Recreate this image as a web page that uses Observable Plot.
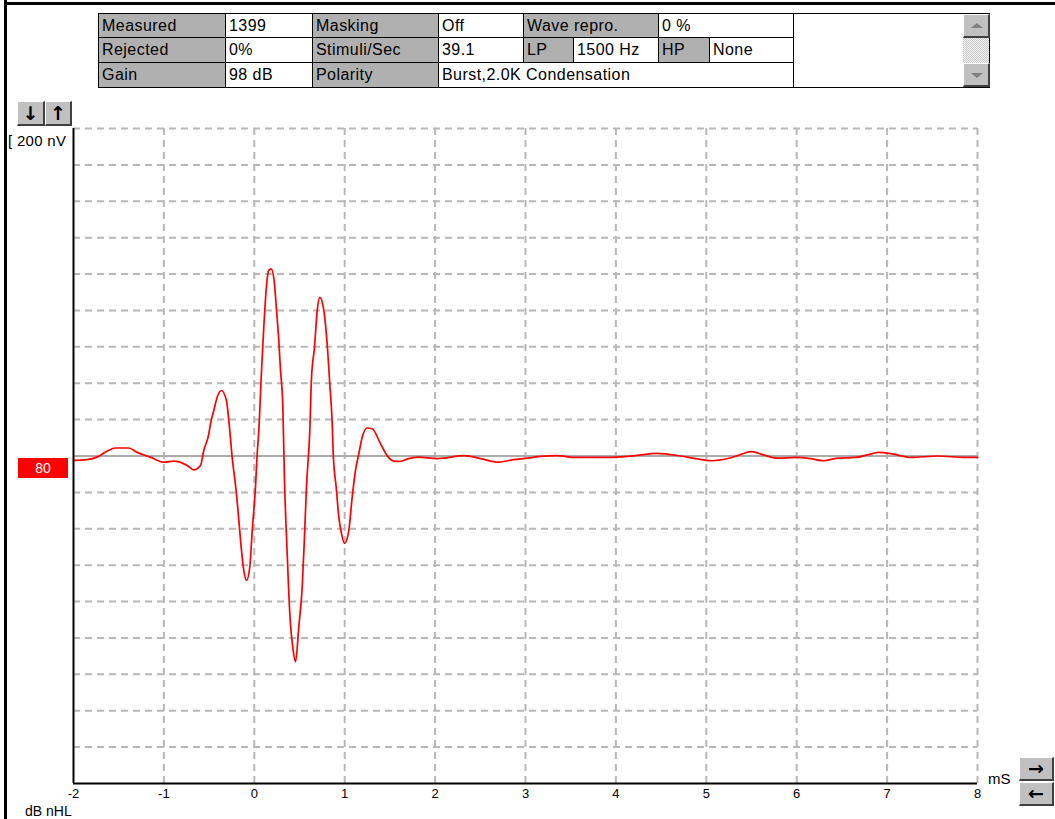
<!DOCTYPE html>
<html><head><meta charset="utf-8">
<script src="https://cdn.jsdelivr.net/npm/d3@7"></script>
<script src="https://cdn.jsdelivr.net/npm/@observablehq/plot@0.6"></script>
<style>
html,body{margin:0;padding:0;background:#fff;}
#root{position:relative;width:1055px;height:819px;overflow:hidden;font-family:"Liberation Sans",Arial,sans-serif;color:#000;}
#root svg{position:absolute;left:0;top:0;}
.abs{position:absolute;box-sizing:border-box;}
.cell{position:absolute;box-sizing:border-box;border:1px solid #000;font-size:16px;letter-spacing:0.45px;padding-left:3px;white-space:nowrap;overflow:hidden;}
.btn{position:absolute;box-sizing:border-box;overflow:hidden;background:#c0c0c0;border-top:1px solid #fff;border-left:1px solid #fff;border-right:2px solid #404040;border-bottom:2px solid #404040;text-align:center;font-family:"DejaVu Sans",sans-serif;font-weight:bold;color:#000;}
</style></head><body><div id="root"></div>
<script>
// ---- data ----
const timeMs = [-2.0,-1.85,-1.74,-1.63,-1.535,-1.39,-1.295,-1.15,-1.0,-0.89,
-0.742,-0.67,-0.595,-0.559,-0.503,-0.485,-0.448,-0.41,-0.363,-0.308,
-0.282,-0.245,-0.197,-0.171,-0.145,-0.116,-0.086,-0.05,-0.023,0.013,
0.032,0.05,0.08,0.105,0.132,0.16,0.187,0.223,0.246,0.271,
0.29,0.315,0.334,0.364,0.393,0.43,0.456,0.492,0.53,0.555,
0.577,0.614,0.633,0.666,0.696,0.725,0.769,0.806,0.835,0.862,
0.873,0.906,0.935,0.965,0.998,1.045,1.083,1.119,1.156,1.194,
1.249,1.304,1.396,1.47,1.543,1.617,1.695,1.816,2.027,2.325,
2.502,2.701,2.867,3.022,3.166,3.343,3.564,3.885,4.217,4.449,
4.715,4.881,5.058,5.235,5.345,5.5,5.633,5.788,5.987,6.153,
6.296,6.451,6.65,6.783,6.905,7.071,7.259,7.558,7.867,8.0];
const amplitude = [-0.12,-0.10,-0.03,0.13,0.22,0.22,0.10,-0.03,-0.17,-0.14,
-0.26,-0.38,-0.26,0.15,0.61,0.88,1.25,1.62,1.80,1.52,
0.98,-0.03,-1.04,-1.77,-2.51,-3.15,-3.42,-3.05,-2.05,-0.86,
0.06,0.70,2.35,3.54,4.59,5.10,5.14,4.73,4.00,3.17,
2.35,1.39,-0.67,-2.69,-4.34,-5.34,-5.66,-4.70,-3.60,-2.23,
-0.86,0.70,2.16,2.99,4.00,4.36,4.00,3.08,1.98,0.88,
0.06,-0.86,-1.68,-2.14,-2.40,-2.05,-1.13,-0.40,0.06,0.52,
0.77,0.75,0.34,0.01,-0.14,-0.15,-0.08,-0.03,-0.07,0.01,
-0.07,-0.17,-0.10,-0.06,-0.01,0.01,-0.04,-0.04,0.01,0.07,
0.00,-0.07,-0.13,-0.07,0.01,0.12,0.03,-0.06,-0.04,-0.07,
-0.13,-0.06,-0.04,0.03,0.10,0.05,-0.04,0.00,-0.04,-0.04];
const xTicks = [-2,-1,0,1,2,3,4,5,6,7,8];
const xGrid = [-1,0,1,2,3,4,5,6,7,8];
const yGrid = [-8,-7,-6,-5,-4,-3,-2,-1,1,2,3,4,5,6,7,8,9];
const yDomain = [-9,9];
const levelLabel = "80";
const scaleLabel = "[ 200 nV";
const xUnit = "mS";
const levelUnit = "dB nHL";
const paramLabels = ["Measured","Rejected","Gain","Masking","Stimuli/Sec","Polarity","Wave repro.","LP","HP"];
const paramValues = ["1399","0%","98 dB","Off","39.1","Burst,2.0K Condensation","0 %","1500 Hz","None"];

// ---- chart ----
const wave = timeMs.map((t,i)=>({t, v: amplitude[i]}));
const root = document.getElementById("root");
const gridStyle = {stroke:"#b8b8b8", strokeOpacity:1, strokeWidth:2, strokeDasharray:"7,5"};
const plot = Plot.plot({
  width:1055, height:819,
  marginLeft:73, marginRight:78, marginTop:128, marginBottom:36,
  style:{fontFamily:"Liberation Sans, Arial, sans-serif", fontSize:"13px", background:"transparent", color:"#000"},
  x:{domain:[xTicks[0], xTicks[xTicks.length-1]], axis:null},
  y:{domain:yDomain, axis:null},
  marks:[
    Plot.gridY(yGrid, gridStyle),
    Plot.gridX(xGrid, gridStyle),
    Plot.ruleY([0], {stroke:"#ababab", strokeWidth:2}),
    Plot.line(wave, {x:"t", y:"v", stroke:"#ff0000", strokeWidth:1.7, curve:"monotone-x"}),
    Plot.ruleX([xTicks[0]], {stroke:"#000", strokeWidth:2}),
    Plot.ruleY([yDomain[0]], {stroke:"#000", strokeWidth:2}),
    Plot.axisX(xTicks, {tickSize:0, tickPadding:5, tickFormat:d=>String(d), fontSize:13, label:null, anchor:"bottom"})
  ]
});
root.appendChild(plot);
const xs = plot.scale("x"), ys = plot.scale("y");
const y0 = ys.apply(0);

function add(cls, style, text){
  const d = document.createElement("div");
  d.className = cls;
  Object.assign(d.style, style);
  if (text != null) d.textContent = text;
  root.appendChild(d);
  return d;
}
// window borders
add("abs", {left:"4px", top:"0px", width:"3px", height:"819px", background:"#000"});
add("abs", {left:"4px", top:"2px", width:"1051px", height:"3px", background:"#000"});

// level label
add("abs", {left:"18px", top:(y0+2.5)+"px", width:"50px", height:"20px", background:"#ff0000", color:"#fff", fontSize:"14px", lineHeight:"20px", textAlign:"center"}, levelLabel);
// scale label
add("abs", {left:"8px", top:(ys.apply(yDomain[1])+5)+"px", fontSize:"15px", lineHeight:"16px", letterSpacing:"0.3px"}, scaleLabel);
// unit labels
add("abs", {left:(xs.apply(xTicks[xTicks.length-1])+11)+"px", top:(ys.apply(yDomain[0])-12)+"px", fontSize:"15px", lineHeight:"16px"}, xUnit);
add("abs", {left:"25px", top:"804px", fontSize:"14px", lineHeight:"15px"}, levelUnit);

// buttons
add("btn", {left:"17px", top:"101px", width:"28px", height:"25px", fontSize:"19px", lineHeight:"22px"}, "↓");
add("btn", {left:"45px", top:"101px", width:"27px", height:"25px", fontSize:"19px", lineHeight:"22px"}, "↑");
add("btn", {left:"1019px", top:"757px", width:"35px", height:"24px", fontSize:"19px", lineHeight:"20px"}, "→");
add("btn", {left:"1019px", top:"782px", width:"35px", height:"24px", fontSize:"19px", lineHeight:"20px"}, "←");

// parameter table
const E = [98,225,312,438,523,573,658,709,793,963,990];
const R = [13,37,62,87];
const gray = "#b0b0b0";
const layout = [
  [paramLabels[0],0,1,0,true],[paramValues[0],1,2,0,false],[paramLabels[3],2,3,0,true],[paramValues[3],3,4,0,false],
  [paramLabels[6],4,6,0,true],[paramValues[6],6,8,0,false],
  [paramLabels[1],0,1,1,true],[paramValues[1],1,2,1,false],[paramLabels[4],2,3,1,true],[paramValues[4],3,4,1,false],
  [paramLabels[7],4,5,1,true],[paramValues[7],5,6,1,false],[paramLabels[8],6,7,1,true],[paramValues[8],7,8,1,false],
  [paramLabels[2],0,1,2,true],[paramValues[2],1,2,2,false],[paramLabels[5],2,3,2,true],[paramValues[5],3,8,2,false]
];
for (const [txt,c0,c1,r,lab] of layout){
  const h = R[r+1]-R[r]+1;
  add("cell", {left:E[c0]+"px", top:R[r]+"px", width:(E[c1]-E[c0]+1)+"px", height:h+"px", lineHeight:(h-2)+"px", background: lab?gray:"#fff"}, txt);
}
add("cell", {left:E[8]+"px", top:R[0]+"px", width:(E[9]-E[8]+1)+"px", height:(R[3]-R[0]+1)+"px", background:"#fff"});
// scrollbar
add("abs", {left:E[9]+"px", top:R[0]+"px", width:(E[10]-E[9])+"px", height:(R[3]-R[0]+1)+"px",
  background:"repeating-conic-gradient(#c8c8c8 0% 25%, #f4f4f4 0% 50%) 0 0/2px 2px", borderRight:"1px solid #000", borderTop:"1px solid #000", borderBottom:"1px solid #000"});
function scrollBtn(top, up){
  const b = add("btn", {left:(E[9])+"px", top:top+"px", width:(E[10]-E[9])+"px", height:"24px"});
  const tri = document.createElement("div");
  Object.assign(tri.style, {position:"absolute", left:"7px", top: up?"8px":"9px", width:"0", height:"0",
    borderLeft:"6px solid transparent", borderRight:"6px solid transparent"});
  if (up) tri.style.borderBottom = "5px solid #808080"; else tri.style.borderTop = "5px solid #808080";
  b.appendChild(tri);
}
scrollBtn(R[0]+1, true);
scrollBtn(R[3]-24, false);
</script>
</body></html>
